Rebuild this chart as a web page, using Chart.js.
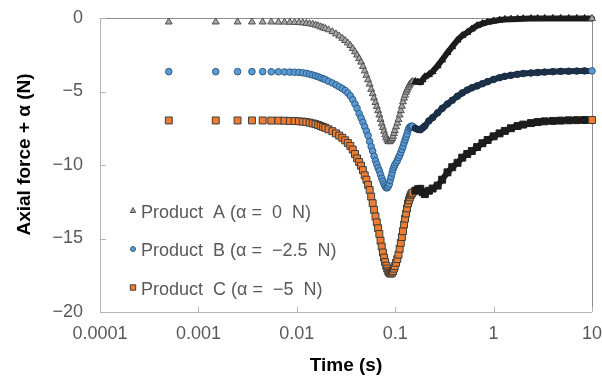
<!DOCTYPE html>
<html>
<head>
<meta charset="utf-8">
<script src="https://cdn.jsdelivr.net/npm/chart.js@4.4.1/dist/chart.umd.min.js"></script>
<style>
  html, body { margin: 0; padding: 0; background: #fff; }
</style>
</head>
<body>
<canvas id="forceChart" width="602" height="378"></canvas>
<script>
// --- data ---
const TIME_S = [
    0.0005, 0.0015, 0.0025, 0.0035, 0.0045, 0.0055, 0.0065, 0.0075, 0.0085, 0.0095,
    0.0105, 0.0115, 0.0125, 0.0135, 0.0145, 0.0155, 0.0165, 0.0175, 0.0185, 0.0195,
    0.021, 0.023, 0.025, 0.027, 0.029, 0.031, 0.033, 0.035, 0.037, 0.039, 0.041, 0.043, 0.045, 0.047, 0.049,
    0.051, 0.053, 0.055, 0.057, 0.059, 0.061, 0.063, 0.065, 0.067, 0.069, 0.071, 0.073, 0.075, 0.077, 0.079,
    0.081, 0.083, 0.085, 0.087, 0.089, 0.091, 0.093, 0.095, 0.097, 0.099,
    0.102, 0.105, 0.108, 0.111, 0.114, 0.117, 0.120, 0.123, 0.126, 0.129, 0.132, 0.135, 0.138, 0.141, 0.144, 0.147, 0.150,
    0.16, 0.17, 0.18, 0.19, 0.2, 0.22, 0.24, 0.27, 0.3, 0.34, 0.38, 0.43, 0.48, 0.54, 0.6, 0.68, 0.77,
    0.87, 1.0, 1.15, 1.3, 1.5, 1.75, 2.0, 2.4, 2.8, 3.3, 4.0, 4.8, 5.8, 7.0, 8.4, 10
];

const PRODUCT_A = [
    -0.27, -0.27, -0.27, -0.27, -0.27, -0.27, -0.28, -0.28, -0.29, -0.30,
    -0.31, -0.33, -0.36, -0.39, -0.43, -0.48, -0.53, -0.60, -0.66, -0.72,
    -0.80, -0.93, -1.08, -1.22, -1.38, -1.53, -1.70, -1.87, -2.08, -2.30, -2.52, -2.76, -3.00, -3.30, -3.60,
    -3.90, -4.20, -4.50, -4.85, -5.15, -5.45, -5.75, -6.02, -6.30, -6.60, -6.90, -7.20, -7.45, -7.70, -7.95,
    -8.15, -8.30, -8.40, -8.42, -8.38, -8.30, -8.20, -8.05, -7.85, -7.65,
    -7.40, -7.15, -6.90, -6.60, -6.30, -6.00, -5.70, -5.45, -5.25, -5.05, -4.90, -4.75, -4.62, -4.50, -4.42, -4.37, -4.33,
    -4.32, -4.36, -4.38, -4.20, -4.00, -3.85, -3.65, -3.25, -2.85, -2.35, -1.95, -1.50, -1.20, -0.98, -0.75, -0.52, -0.38,
    -0.28, -0.20, -0.14, -0.10, -0.08, -0.06, -0.05, -0.04, -0.04, -0.03, -0.03, -0.03, -0.03, -0.03, -0.03, -0.03
];

const PRODUCT_B = [
    -3.65, -3.65, -3.65, -3.65, -3.65, -3.66, -3.66, -3.67, -3.68, -3.69,
    -3.70, -3.73, -3.77, -3.82, -3.88, -3.94, -4.00, -4.07, -4.13, -4.19,
    -4.30, -4.42, -4.55, -4.68, -4.80, -4.93, -5.10, -5.30, -5.55, -5.85, -6.15, -6.50, -6.80, -7.10, -7.40,
    -7.70, -8.00, -8.40, -8.75, -9.05, -9.40, -9.70, -9.95, -10.20, -10.40, -10.65, -10.90, -11.10, -11.30, -11.45,
    -11.55, -11.55, -11.45, -11.30, -11.05, -10.80, -10.55, -10.30, -10.15, -10.00,
    -9.85, -9.70, -9.50, -9.35, -9.15, -8.95, -8.75, -8.50, -8.30, -8.10, -7.90, -7.65, -7.50, -7.42, -7.38, -7.36, -7.36,
    -7.50, -7.58, -7.60, -7.48, -7.35, -7.00, -6.78, -6.45, -6.15, -5.85, -5.60, -5.32, -5.10, -4.90, -4.75, -4.62, -4.47,
    -4.33, -4.18, -4.06, -3.97, -3.90, -3.83, -3.78, -3.74, -3.71, -3.68, -3.65, -3.63, -3.62, -3.61, -3.60, -3.60
];

const PRODUCT_C = [
    -6.97, -6.97, -6.97, -6.97, -6.97, -6.98, -6.98, -6.99, -7.00, -7.01,
    -7.03, -7.05, -7.08, -7.12, -7.17, -7.22, -7.28, -7.35, -7.41, -7.47,
    -7.57, -7.70, -7.85, -8.00, -8.15, -8.32, -8.50, -8.70, -8.95, -9.25, -9.55, -9.80, -10.05, -10.35, -10.70,
    -11.00, -11.35, -11.70, -12.15, -12.60, -13.05, -13.50, -13.90, -14.30, -14.70, -15.15, -15.55, -15.95, -16.30, -16.60,
    -16.85, -17.05, -17.22, -17.32, -17.38, -17.38, -17.32, -17.22, -17.05, -16.88,
    -16.65, -16.40, -16.10, -15.70, -15.30, -14.90, -14.50, -14.05, -13.65, -13.30, -12.95, -12.62, -12.40, -12.20, -12.05, -11.95, -11.88,
    -11.75, -11.65, -11.62, -11.85, -11.98, -11.75, -11.60, -11.40, -11.00, -10.50, -10.15, -9.85, -9.50, -9.25, -9.05, -8.78, -8.52,
    -8.30, -8.05, -7.85, -7.68, -7.50, -7.35, -7.25, -7.15, -7.08, -7.03, -7.00, -6.98, -6.96, -6.95, -6.94, -6.94
];

const SERIES_LABELS = ['Product  A (α =  0  N)', 'Product  B (α =  −2.5  N)', 'Product  C (α =  −5  N)'];
const X_TICKS = [0.0001, 0.001, 0.01, 0.1, 1, 10];
const X_TICK_LABELS = ['0.0001', '0.001', '0.01', '0.1', '1', '10'];
const Y_TICKS = [-20, -15, -10, -5, 0];
const Y_TICK_LABELS = ['−20', '−15', '−10', '−5', '0'];

// --- styling ---
const FONT = "'Liberation Sans', Arial, sans-serif";
const TEXT_GREY = '#595959';
const DARK_FROM = 0.155; // past this the markers pile up into a dark band

const STYLES = [
    { shape: 'triangle', radius: 4,   fill: '#a6a6a6', edge: '#505050', band: '#1c1c1c' },
    { shape: 'circle',   radius: 3.3, fill: '#5b9bd5', edge: '#2f5d88', band: '#1b2f47' },
    { shape: 'rect',     radius: 4.9, fill: '#ed7d31', edge: '#3c3c3c', band: '#1c1c1c' }
];

function makeDataset(values, i) {
    const st = STYLES[i];
    const last = values.length - 1;
    const dark = k => TIME_S[k] > DARK_FROM && k < last;
    return {
        label: SERIES_LABELS[i],
        data: TIME_S.map((t, k) => ({ x: t, y: values[k] })),
        showLine: true,
        borderWidth: 6,
        borderColor: 'transparent',
        borderCapStyle: 'round',
        borderJoinStyle: 'round',
        segment: {
            borderColor: c => TIME_S[c.p0DataIndex] >= 0.15 ? st.band : 'transparent'
        },
        pointStyle: st.shape,
        pointRadius: st.radius,
        pointHoverRadius: st.radius,
        pointBorderWidth: 1,
        pointBackgroundColor: c => dark(c.dataIndex) ? st.band : st.fill,
        pointBorderColor: c => dark(c.dataIndex) ? st.band : st.edge,
        clip: false
    };
}

// box round the plot with inward tick marks
const framePlugin = {
    id: 'frame',
    beforeDatasetsDraw(chart) {
        const { ctx, chartArea: a, scales: { x, y } } = chart;
        ctx.save();
        ctx.lineWidth = 1;
        ctx.strokeStyle = '#8c8c8c';
        ctx.beginPath();
        ctx.moveTo(a.left, a.top + 0.5);
        ctx.lineTo(a.right + 0.5, a.top + 0.5);
        ctx.lineTo(a.right + 0.5, a.bottom);
        ctx.stroke();

        ctx.strokeStyle = '#b4b4b4';
        ctx.beginPath();
        ctx.moveTo(a.left + 0.5, a.top);
        ctx.lineTo(a.left + 0.5, a.bottom + 0.5);
        ctx.lineTo(a.right, a.bottom + 0.5);
        X_TICKS.forEach(v => {
            const px = Math.round(x.getPixelForValue(v)) + 0.5;
            ctx.moveTo(px, a.bottom);
            ctx.lineTo(px, a.bottom - 5);
        });
        Y_TICKS.forEach(v => {
            const py = Math.round(y.getPixelForValue(v)) + 0.5;
            ctx.moveTo(a.left, py);
            ctx.lineTo(a.left + 6, py);
        });
        ctx.stroke();
        ctx.restore();
    }
};

function drawMarker(ctx, st, cx, cy) {
    ctx.fillStyle = st.fill;
    ctx.strokeStyle = st.edge;
    ctx.lineWidth = 1;
    ctx.beginPath();
    if (st.shape === 'triangle') {
        ctx.moveTo(cx, cy - 3);
        ctx.lineTo(cx + 2.7, cy + 2);
        ctx.lineTo(cx - 2.7, cy + 2);
        ctx.closePath();
    } else if (st.shape === 'circle') {
        ctx.arc(cx, cy, 2.5, 0, Math.PI * 2);
    } else {
        ctx.rect(cx - 2.7, cy - 2.7, 5.4, 5.4);
    }
    ctx.fill();
    ctx.stroke();
}

// legend sits inside the plot, lower left
const legendPlugin = {
    id: 'insideLegend',
    afterDatasetsDraw(chart) {
        const { ctx, chartArea: a } = chart;
        ctx.save();
        ctx.font = '18px ' + FONT;
        ctx.textBaseline = 'middle';
        chart.data.datasets.forEach((ds, i) => {
            const cy = a.top + 195 + i * 38.5;
            drawMarker(ctx, STYLES[i], a.left + 33, cy - 2.5);
            ctx.fillStyle = TEXT_GREY;
            ctx.fillText(ds.label, a.left + 41, cy);
        });
        ctx.restore();
    }
};

const chart = new Chart(document.getElementById('forceChart').getContext('2d'), {
    type: 'scatter',
    data: {
        datasets: [
            makeDataset(PRODUCT_A, 0),
            makeDataset(PRODUCT_B, 1),
            makeDataset(PRODUCT_C, 2)
        ]
    },
    options: {
        responsive: false,
        animation: false,
        layout: { padding: { top: 18, right: 10, left: 0, bottom: 0 } },
        plugins: {
            legend: { display: false },
            tooltip: { enabled: false }
        },
        scales: {
            x: {
                type: 'logarithmic',
                position: 'bottom',
                min: 0.0001,
                max: 10,
                afterBuildTicks: s => { s.ticks = X_TICKS.map(v => ({ value: v })); },
                // fixed box; labels may hang over the plot edges
                afterFit: s => { s.height = 66; s.paddingLeft = 0; s.paddingRight = 0; },
                grid: { display: false, drawTicks: false },
                border: { display: false },
                ticks: {
                    autoSkip: false,
                    maxRotation: 0,
                    padding: 11,
                    color: TEXT_GREY,
                    font: { family: FONT, size: 18 },
                    callback: (v, i) => X_TICK_LABELS[i]
                },
                title: {
                    display: true,
                    text: 'Time (s)',
                    color: '#000',
                    font: { family: FONT, size: 19, weight: 'bold' },
                    padding: { top: 0, bottom: 1 }
                }
            },
            y: {
                min: -20,
                max: 0,
                afterBuildTicks: s => { s.ticks = Y_TICKS.map(v => ({ value: v })); },
                afterFit: s => { s.width = 100; s.paddingTop = 0; s.paddingBottom = 0; },
                grid: { display: false, drawTicks: false },
                border: { display: false },
                ticks: {
                    padding: 17,
                    color: TEXT_GREY,
                    font: { family: FONT, size: 18 },
                    callback: (v, i) => Y_TICK_LABELS[i]
                },
                title: {
                    display: true,
                    text: '    Axial force + α (N)',
                    color: '#000',
                    font: { family: FONT, size: 19, weight: 'bold' },
                    padding: { top: 13, bottom: 0 }
                }
            }
        }
    },
    plugins: [framePlugin, legendPlugin]
});
</script>
</body>
</html>
